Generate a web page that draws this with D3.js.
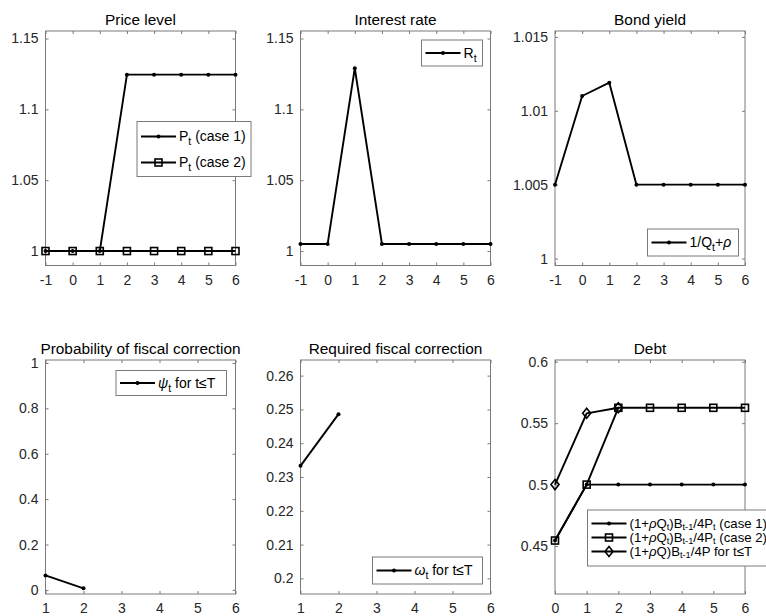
<!DOCTYPE html>
<html>
<head>
<meta charset="utf-8">
<script src="https://cdn.jsdelivr.net/npm/d3@7"></script>
<style>
html,body{margin:0;padding:0;background:#fff;}
svg{display:block;font-family:"Liberation Sans",Arial,sans-serif;}
</style>
</head>
<body>
<svg id="chart" width="766" height="616"></svg>
<script>
// ---------- data ----------
const tTop = [-1, 0, 1, 2, 3, 4, 5, 6];
const priceCase1 = [1, 1, 1, 1.1245, 1.1245, 1.1245, 1.1245, 1.1245];
const priceCase2 = [1, 1, 1, 1, 1, 1, 1, 1];
const interestRate = [1.005, 1.005, 1.129, 1.005, 1.005, 1.005, 1.005, 1.005];
const bondYield = [1.005, 1.011, 1.0119, 1.005, 1.005, 1.005, 1.005, 1.005];

const tFiscal = [1, 2];
const probCorrection = [0.064, 0.007];
const reqCorrection = [0.2333, 0.2486];

const tDebt = [0, 1, 2, 3, 4, 5, 6];
const debtCase1 = [0.4545, 0.5, 0.5, 0.5, 0.5, 0.5, 0.5];
const debtCase2 = [0.4545, 0.5, 0.5625, 0.5625, 0.5625, 0.5625, 0.5625];
const tDebtT = [0, 1, 2];
const debtT = [0.5, 0.558, 0.5625];

const xTicksTop = [-1, 0, 1, 2, 3, 4, 5, 6];
const xTicksFiscal = [1, 2, 3, 4, 5, 6];
const xTicksDebt = [0, 1, 2, 3, 4, 5, 6];
const yTicksPrice = [1, 1.05, 1.1, 1.15];
const yTicksRate = [1, 1.05, 1.1, 1.15];
const yTicksBond = [1, 1.005, 1.01, 1.015];
const yTicksProb = [0, 0.2, 0.4, 0.6, 0.8, 1];
const yTicksReq = [0.2, 0.21, 0.22, 0.23, 0.24, 0.25, 0.26];
const yTicksDebt = [0.45, 0.5, 0.55, 0.6];

const titles = ["Price level", "Interest rate", "Bond yield",
  "Probability of fiscal correction", "Required fiscal correction", "Debt"];

// ---------- layout ----------
const svg = d3.select("#chart");
const AX = "#7a7a7a", TXT = "#262626";
const fmt = v => String(+v.toFixed(4));

const colX = [[45.5, 235.5], [300.5, 490.5], [555, 745]];
const rowY = [[31, 265.5], [360, 594]];

const panels = [
  {r:0,c:0,xd:[-1,6],yd:[0.9898,1.1553],xt:xTicksTop,yt:yTicksPrice},
  {r:0,c:1,xd:[-1,6],yd:[0.9898,1.1553],xt:xTicksTop,yt:yTicksRate},
  {r:0,c:2,xd:[-1,6],yd:[0.99953,1.0154],xt:xTicksTop,yt:yTicksBond},
  {r:1,c:0,xd:[1,6],yd:[-0.018,1.013],xt:xTicksFiscal,yt:yTicksProb},
  {r:1,c:1,xd:[1,6],yd:[0.19538,0.26462],xt:xTicksFiscal,yt:yTicksReq},
  {r:1,c:2,xd:[0,6],yd:[0.411,0.6014],xt:xTicksDebt,yt:yTicksDebt}
];

panels.forEach((p, i) => {
  const [x0, x1] = colX[p.c], [y0, y1] = rowY[p.r];
  p.x = d3.scaleLinear().domain(p.xd).range([x0, x1]);
  p.y = d3.scaleLinear().domain(p.yd).range([y1, y0]);
  p.g = svg.append("g");
  const g = p.g;
  g.append("rect").attr("x", x0).attr("y", y0).attr("width", x1 - x0).attr("height", y1 - y0)
    .attr("fill", "#fff");
  const style = sel => {
    sel.select(".domain").remove();
    sel.selectAll(".tick line").attr("stroke", AX);
    sel.selectAll(".tick text").attr("fill", TXT).style("font-size", "14px")
      .style("font-family", "'Liberation Sans',Arial,sans-serif");
  };
  g.append("g").attr("transform", `translate(0,${y1})`)
    .call(d3.axisBottom(p.x).tickValues(p.xt).tickSize(-3).tickPadding(p.r === 0 ? 10 : 9).tickFormat(fmt))
    .call(style);
  g.append("g").attr("transform", `translate(0,${y0})`)
    .call(d3.axisTop(p.x).tickValues(p.xt).tickSize(-3).tickFormat(""))
    .call(style);
  g.append("g").attr("transform", `translate(${x0},0)`)
    .call(d3.axisLeft(p.y).tickValues(p.yt).tickSize(-3).tickPadding(7).tickFormat(fmt))
    .call(style);
  g.append("g").attr("transform", `translate(${x1},0)`)
    .call(d3.axisRight(p.y).tickValues(p.yt).tickSize(-3).tickFormat(""))
    .call(style);
  g.append("rect").attr("x", x0).attr("y", y0).attr("width", x1 - x0).attr("height", y1 - y0)
    .attr("fill", "none").attr("stroke", AX).attr("stroke-width", 1);
  g.append("text").attr("x", (x0 + x1) / 2).attr("y", y0 - 6).attr("text-anchor", "middle")
    .attr("fill", "#000").style("font-size", "15.4px").text(titles[i]);
});

// ---------- marks ----------
function drawMarker(g, kind, cx, cy) {
  if (kind === "dot") {
    g.append("circle").attr("cx", cx).attr("cy", cy).attr("r", 2).attr("fill", "#000");
  } else if (kind === "square") {
    g.append("rect").attr("x", cx - 3.5).attr("y", cy - 3.5).attr("width", 7).attr("height", 7)
      .attr("fill", "none").attr("stroke", "#000").attr("stroke-width", 1.6);
  } else if (kind === "diamond") {
    g.append("path").attr("d", `M${cx},${cy - 5}L${cx + 4},${cy}L${cx},${cy + 5}L${cx - 4},${cy}Z`)
      .attr("fill", "none").attr("stroke", "#000").attr("stroke-width", 1.6);
  }
}

function series(p, xs, ys, kind) {
  const pts = xs.map((t, k) => [p.x(t), p.y(ys[k])]);
  p.g.append("path").attr("d", d3.line()(pts)).attr("fill", "none")
    .attr("stroke", "#000").attr("stroke-width", 1.9).attr("stroke-linejoin", "round");
  pts.forEach(([cx, cy]) => drawMarker(p.g, kind, cx, cy));
}

series(panels[0], tTop, priceCase1, "dot");
series(panels[0], tTop, priceCase2, "square");
series(panels[1], tTop, interestRate, "dot");
series(panels[2], tTop, bondYield, "dot");
series(panels[3], tFiscal, probCorrection, "dot");
series(panels[4], tFiscal, reqCorrection, "dot");
series(panels[5], tDebt, debtCase1, "dot");
series(panels[5], tDebt, debtCase2, "square");
series(panels[5], tDebtT, debtT, "diamond");

// ---------- legends ----------
function richText(sel, segs, fs, subRatio, shRatio) {
  const subFs = (fs * subRatio) + "px", sh = +(fs * shRatio).toFixed(1);
  let shifted = false;
  segs.forEach(s => {
    const ts = sel.append("tspan").text(s.t);
    if (s.sub && !shifted) { ts.attr("dy", sh).style("font-size", subFs); shifted = true; }
    else if (!s.sub && shifted) { ts.attr("dy", -sh); shifted = false; }
    else if (s.sub) ts.style("font-size", subFs);
    if (s.it) ts.style("font-style", "italic");
  });
}

function legend(p, box, rows, fs, subRatio, shRatio) {
  const g = p.g.append("g");
  g.append("rect").attr("x", box[0]).attr("y", box[1]).attr("width", box[2]).attr("height", box[3])
    .attr("fill", "#fff").attr("stroke", AX).attr("stroke-width", 1);
  rows.forEach(r => {
    const yy = box[1] + r.dy;
    const lx0 = box[0] + 4, lx1 = box[0] + 39;
    g.append("line").attr("x1", lx0).attr("x2", lx1).attr("y1", yy).attr("y2", yy)
      .attr("stroke", "#000").attr("stroke-width", 1.9);
    drawMarker(g, r.kind, (lx0 + lx1) / 2, yy);
    const t = g.append("text").attr("x", lx1 + 3).attr("y", yy + fs * 0.33).attr("fill", "#000")
      .style("font-size", fs + "px");
    richText(t, r.segs, fs, subRatio, shRatio);
  });
}

legend(panels[0], [137, 121.5, 114, 55], [
  {dy: 15, kind: "dot", segs: [{t: "P"}, {t: "t", sub: true}, {t: " (case 1)"}]},
  {dy: 41, kind: "square", segs: [{t: "P"}, {t: "t", sub: true}, {t: " (case 2)"}]}
], 14, 0.75, 0.28);
legend(panels[1], [421.5, 40, 61, 26], [
  {dy: 13, kind: "dot", segs: [{t: "R"}, {t: "t", sub: true}]}
], 14, 0.75, 0.28);
legend(panels[2], [647.5, 229, 91, 27], [
  {dy: 13.5, kind: "dot", segs: [{t: "1/Q"}, {t: "t", sub: true}, {t: "+"}, {t: "ρ", it: true}]}
], 14, 0.75, 0.28);
legend(panels[3], [116, 370.5, 110.5, 25], [
  {dy: 12.5, kind: "dot", segs: [{t: "ψ", it: true}, {t: "t", sub: true}, {t: " for t≤T"}]}
], 14, 0.75, 0.28);
legend(panels[4], [372.5, 557, 110, 27], [
  {dy: 13.5, kind: "dot", segs: [{t: "ω", it: true}, {t: "t", sub: true}, {t: " for t≤T"}]}
], 14, 0.75, 0.28);
legend(panels[5], [587.5, 510, 200, 56], [
  {dy: 13.5, kind: "dot", segs: [{t: "(1+"}, {t: "ρ", it: true}, {t: "Q"}, {t: "t", sub: true}, {t: ")B"}, {t: "t-1", sub: true}, {t: "/4P"}, {t: "t", sub: true}, {t: " (case 1)"}]},
  {dy: 27.5, kind: "square", segs: [{t: "(1+"}, {t: "ρ", it: true}, {t: "Q"}, {t: "t", sub: true}, {t: ")B"}, {t: "t-1", sub: true}, {t: "/4P"}, {t: "t", sub: true}, {t: " (case 2)"}]},
  {dy: 41.5, kind: "diamond", segs: [{t: "(1+"}, {t: "ρ", it: true}, {t: "Q)B"}, {t: "t-1", sub: true}, {t: "/4P for t≤T"}]}
], 13.2, 0.7, 0.2);
</script>
</body>
</html>
